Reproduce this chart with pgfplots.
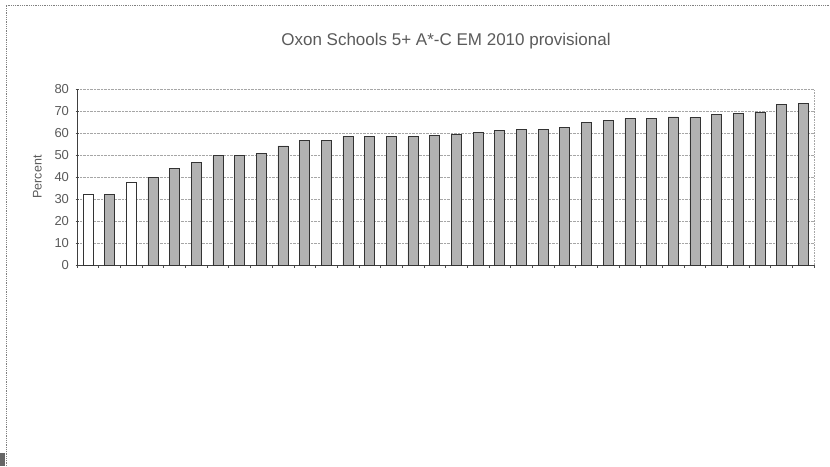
\documentclass[border=0pt]{standalone}
\usepackage{pgfplots}
\pgfplotsset{compat=1.18}
\usepackage{fontspec}
\setmainfont{Liberation Sans}
\definecolor{txtgray}{HTML}{5A5A5A}
\definecolor{bargray}{HTML}{B2B2B2}
\begin{document}
\begin{tikzpicture}[x=1pt,y=1pt]
\useasboundingbox (0,0) rectangle (830,466);
\draw[gray, densely dotted, line width=0.8pt] (6,0) -- (6,461) -- (830,461);
\fill[black!60] (0,0) rectangle (5,13);
\node[text=txtgray, font=\fontsize{17}{20}\selectfont] at (446,425) {Oxon Schools 5+ A*-C EM 2010 provisional};
\begin{axis}[
  at={(77pt,201pt)}, anchor=south west,
  scale only axis, width=737pt, height=176pt,
  xmin=-0.5, xmax=33.5, ymin=0, ymax=80,
  ytick={0,10,...,80},
  xtick={-0.5,0.5,...,33.5}, xticklabels={},
  tick align=outside, major tick length=3pt,
  tick style={black!70, line width=0.5pt},
  axis lines=left, axis line style={-, black!75, line width=0.7pt},
  ymajorgrids, grid style={densely dotted, black!35, line width=0.6pt},
  yticklabel style={text=txtgray, font=\fontsize{13}{15}\selectfont, xshift=-3pt},
  /pgf/number format/assume math mode=true,
  ylabel={Percent}, ylabel style={text=txtgray, font=\fontsize{12.5}{14}\selectfont},
  ylabel shift=6pt,
  ybar, bar width=10pt,
  clip=false,
]
\addplot[ybar, bar shift=0pt, fill=white, draw=black!80, line width=0.5pt]
  coordinates {(0,32) (2,37.6)};
\addplot[ybar, bar shift=0pt, fill=bargray, draw=black!80, line width=0.5pt]
  coordinates {(1,32) (3,40) (4,44) (5,46.7) (6,50) (7,50) (8,50.8) (9,54.2)
  (10,56.5) (11,56.6) (12,58.4) (13,58.5) (14,58.3) (15,58.3) (16,59) (17,59.5)
  (18,60.2) (19,61.2) (20,61.7) (21,61.8) (22,62.6) (23,64.9) (24,65.9) (25,66.7)
  (26,66.6) (27,67.3) (28,67.1) (29,68.3) (30,68.9) (31,69.5) (32,73.0) (33,73.4)};
\draw[densely dotted, black!35, line width=0.6pt] (rel axis cs:1,0) -- (rel axis cs:1,1);
\end{axis}
\end{tikzpicture}
\end{document}
